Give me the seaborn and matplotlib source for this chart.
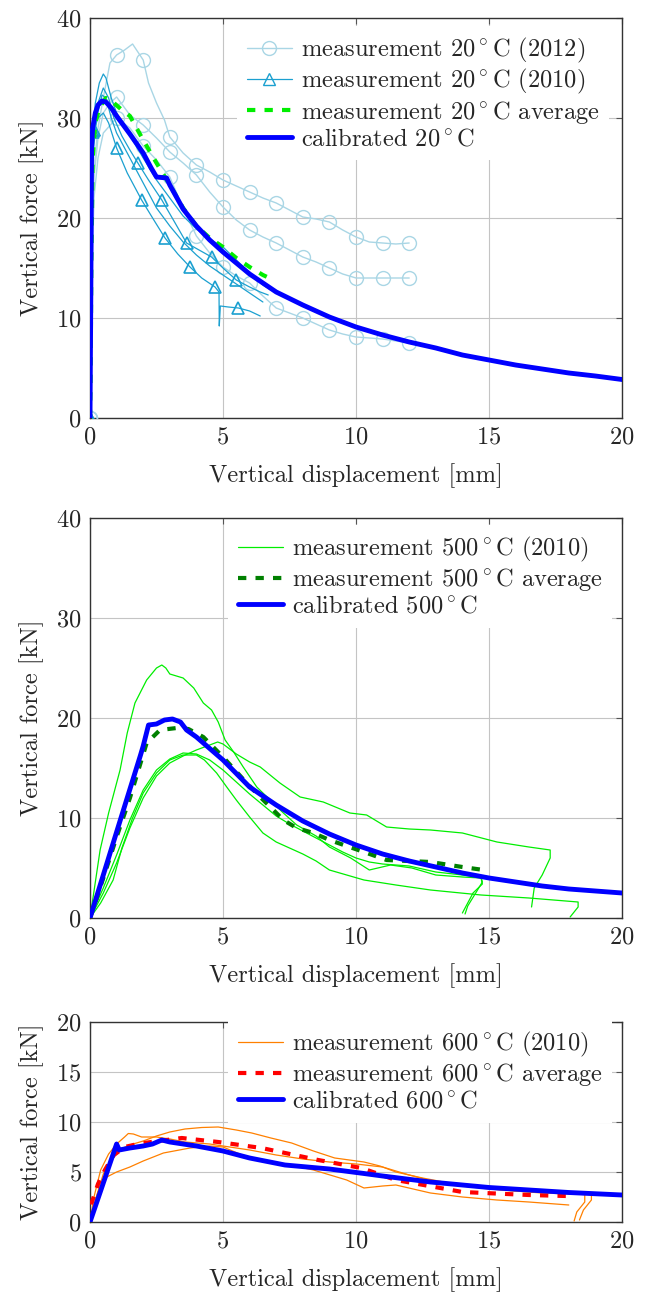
import numpy as np
import pandas as pd
import seaborn as sns
import matplotlib
matplotlib.use("Agg")
import matplotlib.pyplot as plt
from matplotlib.lines import Line2D

# ---------------- data: 20 C ----------------
c20_a_x = [0, 0.05, 0.15, 0.3, 0.5, 0.75, 1.0, 1.3, 1.6, 1.8, 2.0, 2.2, 2.5, 2.8, 3.0, 3.5, 4, 4.5, 5, 5.5, 6, 6.5, 7, 7.5, 8, 8.5, 9, 9.5, 10, 10.5, 11, 11.5, 12]
c20_a_y = [0, 18, 25, 29, 32, 35.5, 36.3, 36.8, 37.4, 36.6, 35.8, 33.5, 31.5, 29.8, 28.1, 26.5, 25.3, 24.6, 23.8, 23.2, 22.6, 22.0, 21.5, 20.8, 20.1, 19.9, 19.6, 18.8, 18.1, 17.6, 17.5, 17.4, 17.5]
c20_b_x = [0, 0.05, 0.15, 0.3, 0.5, 0.75, 1.0, 1.5, 2.0, 2.5, 3.0, 3.5, 4, 4.5, 5, 5.5, 6, 6.5, 7, 7.5, 8, 8.5, 9, 9.5, 10, 10.5, 11, 11.5, 12]
c20_b_y = [0, 15, 24, 28, 30.5, 31.5, 32.1, 30.3, 29.3, 28.0, 26.6, 25.5, 24.3, 22.6, 21.1, 19.8, 18.8, 18.1, 17.5, 16.8, 16.1, 15.6, 15.0, 14.4, 14.0, 14.0, 14.0, 14.0, 14.0]
c20_c_x = [0, 0.05, 0.15, 0.3, 0.5, 1.0, 1.5, 2.0, 2.5, 3.0, 3.5, 4, 4.5, 5, 5.5, 6, 6.5, 7, 7.5, 8, 8.5, 9, 9.5, 10, 10.5, 11, 11.5, 12]
c20_c_y = [0, 12, 22, 26, 28.5, 30.0, 29.0, 27.2, 25.8, 24.1, 21.0, 18.2, 16.5, 15.1, 14.2, 13.5, 12.2, 11.0, 10.5, 10.0, 9.4, 8.8, 8.4, 8.1, 8.0, 7.9, 7.7, 7.5]

t20_1_x = [0, 0.03, 0.1, 0.2, 0.35, 0.5, 0.6, 0.8, 1.0, 1.3, 1.6, 2.0, 2.5, 3.0, 3.5, 4.0, 4.5, 5.0, 5.5, 6.0, 6.5, 6.8]
t20_1_y = [0, 20, 28.6, 31.5, 33.5, 34.4, 34.0, 32.0, 30.5, 29.2, 27.8, 26.0, 23.8, 22.0, 20.2, 18.9, 17.9, 17.1, 15.8, 14.5, 13.3, 12.8]
t20_2_x = [0, 0.03, 0.1, 0.15, 0.3, 0.5, 0.7, 0.9, 1.2, 1.5, 1.8, 2.2, 2.7, 3.2, 3.63, 4.1, 4.57, 5.0, 5.5, 6.0, 6.4, 6.7]
t20_2_y = [0, 18, 27, 28.8, 31.5, 33.0, 32.0, 30.0, 28.2, 26.8, 25.5, 23.8, 21.8, 19.5, 17.5, 16.8, 16.1, 15.0, 13.8, 13.1, 12.6, 12.3]
t20_3_x = [0, 0.03, 0.1, 0.25, 0.45, 0.6, 0.8, 1.0, 1.5, 2.0, 2.5, 3.0, 3.5, 4.0, 4.5, 5.0, 5.5, 6.0, 6.5]
t20_3_y = [0, 15, 26, 30, 32.3, 32.0, 30.0, 28.5, 26.0, 23.5, 21.0, 19.2, 17.6, 16.3, 15.2, 14.3, 13.4, 12.5, 11.6]
t20_4_x = [0, 0.03, 0.1, 0.15, 0.3, 0.5, 0.7, 1.0, 1.4, 1.94, 2.4, 2.82, 3.3, 3.76, 4.2, 4.7, 4.85, 4.86, 4.9, 5.2, 5.58, 6.0, 6.4]
t20_4_y = [0, 16, 26.5, 28.8, 30.0, 30.5, 29.5, 27.0, 24.5, 21.8, 19.8, 18.0, 16.4, 15.1, 14.0, 13.1, 12.6, 9.2, 11.2, 11.1, 11.0, 10.7, 10.2]

avg20_x = [0, 0.02, 0.05, 0.1, 0.2, 0.35, 0.6, 0.9, 1.2, 1.5, 2.0, 2.5, 3.0, 3.5, 4.0, 4.5, 5.0, 5.5, 6.0, 6.5, 6.9]
avg20_y = [0, 3, 15, 26, 29.5, 31, 32.0, 31.5, 30.8, 30.2, 27.8, 25.5, 23.3, 21.0, 19.2, 18.0, 17.1, 16.0, 15.1, 14.3, 13.8]

cal20_x = [0, 0.03, 0.06, 0.1, 0.2, 0.3, 0.45, 0.6, 0.8, 1.0, 1.5, 2.0, 2.3, 2.5, 2.88, 3.0, 3.5, 4.0, 4.5, 5.0, 6.0, 7.0, 8.0, 9.0, 10.0, 11, 12.0, 13, 14.0, 15, 16.0, 17, 18.0, 19, 20.0]
cal20_y = [0, 12, 27, 29, 30.5, 31.3, 31.7, 31.6, 31.0, 30.2, 28.4, 26.5, 25.0, 24.1, 24.0, 23.3, 20.9, 19.2, 17.8, 16.6, 14.4, 12.6, 11.3, 10.1, 9.1, 8.3, 7.6, 7.0, 6.3, 5.8, 5.3, 4.9, 4.5, 4.2, 3.85]

# ---------------- data: 500 C ----------------
m500_1_x = [0, 0.38, 0.7, 1.13, 1.4, 1.69, 2.13, 2.5, 2.7, 2.85, 3.0, 3.5, 3.9, 4.26, 4.57, 4.82, 5.08, 5.4, 5.76, 6.27, 6.77, 7.27, 7.77, 8.5, 9.0, 9.8, 10.5, 11.3, 12.1, 13.0, 14.0, 14.7, 14.75, 14.4, 14.2, 14.0]
m500_1_y = [0, 6.8, 10.5, 14.8, 18.5, 21.5, 23.8, 25.0, 25.3, 25.0, 24.4, 24.0, 23.0, 21.5, 20.8, 19.6, 17.8, 16.6, 15.1, 13.1, 11.8, 10.5, 9.3, 8.2, 7.1, 6.0, 4.8, 5.3, 5.0, 4.3, 4.1, 4.0, 3.4, 2.5, 1.5, 0.5]
m500_2_x = [0, 0.5, 1.0, 1.5, 2.0, 2.5, 3.0, 3.5, 4.0, 4.5, 4.8, 5.0, 5.5, 6.0, 6.4, 7.14, 7.9, 8.77, 9.77, 10.4, 11.15, 12.0, 12.8, 14.0, 15.3, 16.5, 17.3, 17.3, 17.0, 16.7, 16.6]
m500_2_y = [0, 2.5, 5.5, 9.0, 12.0, 14.2, 15.5, 16.2, 16.8, 17.3, 17.6, 17.4, 16.4, 15.6, 15.1, 13.5, 12.1, 11.6, 10.5, 10.3, 9.1, 8.9, 8.8, 8.5, 7.6, 7.1, 6.8, 6.0, 4.3, 3.0, 1.1]
m500_3_x = [0, 0.4, 0.87, 1.2, 1.6, 2.0, 2.5, 3.0, 3.5, 4.0, 4.3, 4.76, 5.14, 5.5, 6.0, 6.5, 7.0, 7.5, 8.0, 8.5, 9.0, 10.3, 11.5, 12.8, 14.7, 16.5, 18.35, 18.35, 18.05]
m500_3_y = [0, 1.5, 3.8, 7.0, 10.0, 12.5, 14.5, 15.8, 16.3, 16.3, 15.8, 14.5, 13.1, 11.8, 10.1, 8.5, 7.6, 7.0, 6.4, 5.7, 4.8, 3.8, 3.3, 2.8, 2.3, 2.0, 1.6, 1.1, 0.1]
m500_4_x = [0, 0.5, 1.0, 1.5, 2.0, 2.5, 3.0, 3.5, 4.0, 4.5, 5.0, 5.5, 6.0, 6.5, 7.0, 7.5, 8.0, 8.5, 9.0, 9.5, 10.0, 10.5, 11.0, 12.0, 13.0, 14.0, 14.7, 14.75, 14.5, 14.2, 14.1]
m500_4_y = [0, 3.0, 6.3, 9.8, 12.8, 14.8, 15.9, 16.5, 16.4, 15.8, 14.8, 13.6, 12.4, 11.3, 10.2, 9.4, 8.7, 8.0, 7.3, 6.6, 6.0, 5.6, 5.4, 5.2, 4.6, 4.3, 4.1, 3.6, 2.5, 1.2, 0.4]

avg500_x = [0, 0.5, 1.0, 1.5, 2.13, 2.63, 3.26, 3.7, 4.26, 5.0, 5.89, 6.4, 7.27, 7.77, 8.4, 9.0, 10.3, 11.15, 12.8, 14.0, 14.8, 14.9]
avg500_y = [0, 4.0, 8.1, 12.0, 17.5, 18.8, 19.0, 18.9, 18.1, 16.1, 13.5, 12.1, 9.8, 9.0, 8.5, 7.8, 6.6, 5.8, 5.6, 5.1, 4.8, 5.2]

cal500_x = [0, 1.0, 1.9, 2.0, 2.2, 2.5, 2.8, 3.1, 3.4, 3.63, 4.0, 5.0, 6.0, 7.0, 8.0, 9.0, 10.0, 11.0, 12.0, 13.0, 14.0, 15.0, 16.0, 17.0, 18.0, 19.0, 20.0]
cal500_y = [0, 8.6, 16.3, 17.2, 19.3, 19.4, 19.8, 19.9, 19.6, 18.8, 18.1, 15.8, 13.1, 11.3, 9.7, 8.4, 7.3, 6.4, 5.7, 5.1, 4.5, 4.0, 3.6, 3.2, 2.9, 2.7, 2.5]

# ---------------- data: 600 C ----------------
m600_1_x = [0, 0.2, 0.5, 0.8, 1.06, 1.5, 2.0, 2.5, 3.0, 3.57, 4.2, 4.82, 5.5, 6.08, 6.8, 7.58, 8.4, 9.2, 10.3, 10.9, 11.5, 12.5, 13.5, 14.5, 15.5, 16.5, 17.5, 18.85, 18.85, 18.55, 18.4]
m600_1_y = [0, 2.2, 4.8, 6.3, 7.2, 7.7, 8.1, 8.6, 9.0, 9.3, 9.45, 9.5, 9.2, 8.9, 8.4, 7.9, 7.1, 6.4, 6.0, 5.6, 5.0, 4.4, 3.9, 3.5, 3.2, 3.0, 2.95, 2.9, 2.2, 1.2, 0.2]
m600_2_x = [0, 0.15, 0.4, 0.7, 1.0, 1.3, 1.44, 1.63, 1.94, 2.5, 3.0, 3.57, 4.5, 5.0, 6.0, 7.0, 8.0, 9.0, 10.0, 11.0, 12.0, 13.0, 14.0, 15.0, 16.0, 17.0, 18.6, 18.6, 18.3, 18.2]
m600_2_y = [0, 2.5, 5.2, 6.8, 7.8, 8.5, 8.85, 8.8, 8.5, 8.5, 8.3, 8.0, 7.8, 7.6, 7.2, 6.7, 6.3, 6.0, 5.8, 5.5, 4.7, 4.0, 3.6, 3.3, 3.1, 2.9, 2.75, 2.0, 1.0, 0.1]
m600_3_x = [0, 0.3, 0.63, 1.0, 1.5, 2.0, 2.76, 3.76, 4.5, 5.0, 5.9, 7.14, 8.4, 9.65, 10.3, 11.0, 11.5, 12.8, 14.0, 15.3, 16.5, 18.0]
m600_3_y = [0, 3.0, 4.5, 5.0, 5.5, 6.1, 6.9, 7.4, 7.6, 7.5, 6.5, 5.9, 5.2, 4.2, 3.4, 3.6, 3.7, 2.9, 2.5, 2.2, 2.0, 1.7]

avg600_x = [0, 0.06, 0.3, 0.56, 0.9, 1.3, 1.8, 2.3, 3.45, 4.82, 6.45, 8.58, 10.2, 11.5, 14.0, 16.5, 17.9]
avg600_y = [0, 1.9, 3.8, 5.2, 6.7, 7.5, 7.8, 8.0, 8.4, 8.0, 7.4, 6.2, 5.4, 4.2, 3.0, 2.7, 2.6]

cal600_x = [0, 1.0, 1.1, 1.5, 2.0, 2.35, 2.7, 3.0, 4.0, 5.0, 6.0, 7.33, 9.0, 10.3, 11.0, 12.8, 14.0, 15.0, 16.5, 18.0, 20.0]
cal600_y = [0, 7.8, 7.2, 7.4, 7.6, 7.8, 8.2, 8.0, 7.6, 7.1, 6.4, 5.7, 5.3, 4.85, 4.6, 4.0, 3.7, 3.45, 3.2, 2.95, 2.7]

x_ticks = [0, 5, 10, 15, 20]
y_ticks_big = [0, 10, 20, 30, 40]
y_ticks_small = [0, 5, 10, 15, 20]

legend20 = [r"measurement 20$^\circ$C (2012)", r"measurement 20$^\circ$C (2010)", r"measurement 20$^\circ$C average", r"calibrated 20$^\circ$C"]
legend500 = [r"measurement 500$^\circ$C (2010)", r"measurement 500$^\circ$C average", r"calibrated 500$^\circ$C"]
legend600 = [r"measurement 600$^\circ$C (2010)", r"measurement 600$^\circ$C average", r"calibrated 600$^\circ$C"]
x_label = "Vertical displacement [mm]"
y_label = "Vertical force [kN]"

# ---------------- styling ----------------
sns.set_theme(style="white")
plt.rcParams["font.family"] = ["cmr10", "DejaVu Serif"]
plt.rcParams["axes.formatter.use_mathtext"] = True
plt.rcParams["mathtext.fontset"] = "cm"
FS = 17.6

C_LIGHT = "#a9d6e5"
C_TRI = "#1ba0d0"
C_LIME = "#00ee00"
C_BLUE = "#0000ff"
C_DKGREEN = "#008000"
C_ORANGE = "#ff8000"
C_RED = "#ff0000"

fig = plt.figure(figsize=(6.46, 12.98), dpi=100)
L, R = 90 / 646, 622 / 646
H = 1298
def mk_ax(top, bot):
    return fig.add_axes([L, 1 - bot / H, R - L, (bot - top) / H])

ax1 = mk_ax(18, 418)
ax2 = mk_ax(518, 918)
ax3 = mk_ax(1022, 1222)

def line(ax, x, y, color, lw, z, **kw):
    sns.lineplot(x=x, y=y, sort=False, estimator=None, color=color, linewidth=lw,
                 ax=ax, zorder=z, legend=False, **kw)

def int_idx(xs):
    return [i for i, v in enumerate(xs) if abs(v - round(v)) < 1e-9]

# Panel 1
for xs, ys in [(c20_a_x, c20_a_y), (c20_b_x, c20_b_y), (c20_c_x, c20_c_y)]:
    line(ax1, xs, ys, C_LIGHT, 1.0, 3, marker="o", markersize=10,
         markerfacecolor="none", markeredgecolor=C_LIGHT, markeredgewidth=1.0,
         markevery=int_idx(xs))
tri_marks = [[0, 2], [0, 3, 10, 12, 14, 16, 18], [0], [0, 3, 7, 9, 11, 13, 15, 20]]
for (xs, ys), me in zip([(t20_1_x, t20_1_y), (t20_2_x, t20_2_y), (t20_3_x, t20_3_y), (t20_4_x, t20_4_y)], tri_marks):
    line(ax1, xs, ys, C_TRI, 0.9, 4, marker="^", markersize=8.5,
         markerfacecolor="none", markeredgecolor=C_TRI, markeredgewidth=1.2,
         markevery=me)
line(ax1, avg20_x, avg20_y, C_LIME, 3.0, 5, dashes=(2, 2.2))
line(ax1, cal20_x, cal20_y, C_BLUE, 3.5, 6)

# Panel 2
for xs, ys in [(m500_1_x, m500_1_y), (m500_2_x, m500_2_y), (m500_3_x, m500_3_y), (m500_4_x, m500_4_y)]:
    line(ax2, xs, ys, C_LIME, 0.9, 3)
line(ax2, avg500_x, avg500_y, C_DKGREEN, 3.0, 5, dashes=(2, 2.2))
line(ax2, cal500_x, cal500_y, C_BLUE, 3.5, 6)

# Panel 3
for xs, ys in [(m600_1_x, m600_1_y), (m600_2_x, m600_2_y), (m600_3_x, m600_3_y)]:
    line(ax3, xs, ys, C_ORANGE, 0.9, 3)
line(ax3, avg600_x, avg600_y, C_RED, 3.0, 5, dashes=(2, 2.2))
line(ax3, cal600_x, cal600_y, C_BLUE, 3.5, 6)

def style(ax, yticks, ymax):
    ax.set_xlim(0, 20)
    ax.set_ylim(0, ymax)
    ax.set_xticks(x_ticks)
    ax.set_yticks(yticks)
    ax.grid(True, color="#c4c4c4", linewidth=0.8, zorder=0)
    ax.set_axisbelow(True)
    for s in ax.spines.values():
        s.set_color("#333333")
        s.set_linewidth(1.0)
    ax.tick_params(direction="in", length=4, width=0.8, color="#555555",
                   top=True, right=True, labelsize=FS, pad=6)
    ax.set_xlabel(x_label, fontsize=FS, labelpad=11)
    ax.set_ylabel(y_label, fontsize=FS, labelpad=9)

style(ax1, y_ticks_big, 40)
style(ax2, y_ticks_big, 40)
style(ax3, y_ticks_small, 20)

def legend(ax, labels, handles, x0px, top_px, axtop):
    lg = ax.legend(handles, labels, loc="upper left",
                   bbox_to_anchor=((x0px - 90) / 532, 1 - (top_px - axtop) / (ax.bbox.height)),
                   frameon=True, fancybox=False, facecolor="white", edgecolor="none",
                   framealpha=1, fontsize=FS, handlelength=1.85, handletextpad=0.35,
                   labelspacing=0.1, borderpad=0.4, borderaxespad=0)
    lg.set_zorder(10)

h20 = [Line2D([0, 0.5, 1], [0, 0, 0], color=C_LIGHT, lw=1.0, marker="o", markersize=10, markerfacecolor="none", markevery=[1], markeredgecolor=C_LIGHT),
       Line2D([0, 0.5, 1], [0, 0, 0], color=C_TRI, lw=0.9, marker="^", markersize=8.5, markerfacecolor="none", markevery=[1], markeredgecolor=C_TRI),
       Line2D([], [], color=C_LIME, lw=3.0, dashes=(2, 2.2)),
       Line2D([], [], color=C_BLUE, lw=3.5)]
h500 = [Line2D([], [], color=C_LIME, lw=0.9), Line2D([], [], color=C_DKGREEN, lw=3.0, dashes=(2, 2.2)), Line2D([], [], color=C_BLUE, lw=3.5)]
h600 = [Line2D([], [], color=C_ORANGE, lw=0.9), Line2D([], [], color=C_RED, lw=3.0, dashes=(2, 2.2)), Line2D([], [], color=C_BLUE, lw=3.5)]

legend(ax1, legend20, h20, 237, 26, 18)
legend(ax2, legend500, h500, 228, 525, 518)
legend(ax3, legend600, h600, 228, 1020, 1022)

fig.savefig("out.png", dpi=100)
